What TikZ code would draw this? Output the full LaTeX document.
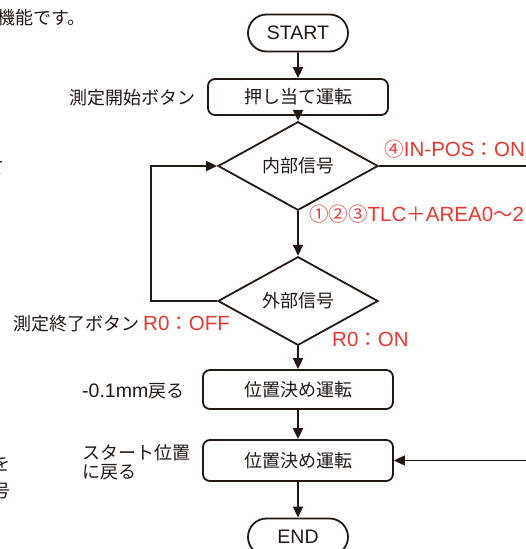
\documentclass[tikz,border=0pt]{standalone}
\usepackage{fontspec}
\newfontfamily\jpf{Noto Sans CJK JP}
\newfontfamily\latf{Liberation Sans}
\usetikzlibrary{arrows.meta,shapes.geometric,shapes.misc}
\definecolor{ink}{RGB}{35,24,21}
\definecolor{sred}{RGB}{232,56,48}
\newcommand\La[1]{{\latf\fontsize{19.5}{22}\selectfont #1}}
\newcommand\Lr[1]{{\latf\fontsize{20.5}{22}\selectfont #1}}
\begin{document}
\begin{tikzpicture}[x=1pt,y=-1pt,
  every node/.style={font=\jpf\fontsize{18}{19}\selectfont, text=ink, inner sep=0pt},
  flow/.style={draw=ink, line width=1.8pt},
  term/.style={flow, rounded rectangle, minimum width=100pt, minimum height=37pt},
  proc/.style={flow, rectangle, rounded corners=7pt},
  dec/.style={flow, diamond, minimum width=160pt, minimum height=66pt},
  rtxt/.style={text=sred, font=\jpf\fontsize{19.5}{21}\selectfont},
  conn/.style={draw=ink, line width=1.8pt, -{Triangle[length=11pt,width=10pt]}},
  plain/.style={draw=ink, line width=1.8pt}]
\useasboundingbox (0,0) rectangle (526,549);
\clip (0,0) rectangle (526,549);
% flow nodes
\node[term] (start) at (298,33) {\La{START}};
\node[proc, minimum width=180pt, minimum height=36pt] (push) at (298,97) {押し当て運転};
\node[dec] (d1) at (298,166) {内部信号};
\node[dec] (d2) at (298,301) {外部信号};
\node[proc, minimum width=190pt, minimum height=39pt] (pos1) at (298,389.5) {位置決め運転};
\node[proc, minimum width=190pt, minimum height=41pt] (pos2) at (298,460.5) {位置決め運転};
\node[term] (end) at (298,537) {\La{END}};
% connectors
\draw[conn] (start) -- (push);
\draw[conn] (push) -- (d1);
\draw[conn] (d1) -- (d2);
\draw[conn] (d2) -- (pos1);
\draw[conn] (pos1) -- (pos2);
\draw[conn] (pos2) -- (end);
\coordinate (lx) at (151,301);
\draw[conn] (d2.west) -- (lx) |- (d1.west);
\coordinate (rout) at (530,166);
\draw[plain] (d1.east) -- (rout);
\coordinate (rin) at (530,460.5);
\draw[conn] (rin) -- (pos2.east);
% labels
\node[anchor=east] (l1) at (196,98) {測定開始ボタン};
\node[rtxt, anchor=east] (l2) at (525,149) {④\Lr{IN-POS}：\Lr{ON}};
\node[rtxt, anchor=west] (l3) at (309,214) {①②③\Lr{TLC}＋\Lr{AREA0}～\Lr{2}};
\node[anchor=west] (l4) at (13,324) {測定終了ボタン {\color{sred}\fontsize{19.5}{21}\selectfont\Lr{R0}：\Lr{OFF}}};
\node[rtxt, anchor=west] (l5) at (332,339) {\Lr{R0}：\Lr{ON}};
\node[anchor=west] (l6) at (82,391) {\La{-0.1mm}戻る};
\node[anchor=west, align=left] (l7) at (82,462) {スタート位置\\に戻る};
% clipped text fragments at the left edge
\node[anchor=west] (f1) at (-3,18) {機能です。};
\node[anchor=east] (f2) at (5,168) {て};
\node[anchor=east] (f3) at (11,464) {を};
\node[anchor=east] (f4) at (11,491) {号};
\end{tikzpicture}
\end{document}
